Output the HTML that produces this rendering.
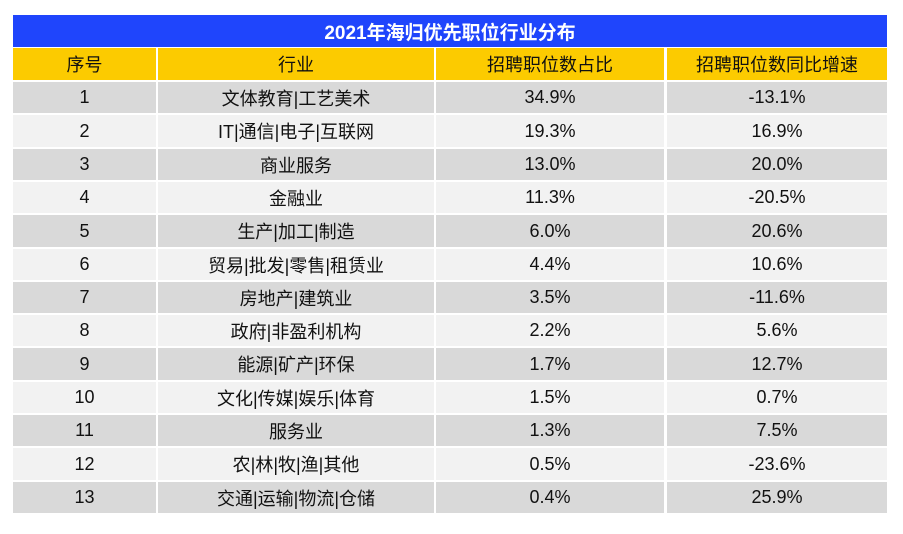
<!DOCTYPE html>
<html><head><meta charset="utf-8"><style>
body{margin:0;width:903px;height:534px;background:#fff;font-family:"Liberation Sans","Noto Sans CJK SC",sans-serif;position:relative;overflow:hidden}
.c{position:absolute;display:flex;align-items:center;justify-content:center;font-size:18px;color:#111}
</style></head><body>
<div class="c" style="left:13px;top:15px;width:874px;height:32px;background:#1f45fc;color:#fff;font-weight:bold;font-size:19px">2021年海归优先职位行业分布</div>
<div id="t"></div>
<script>
var cols=[[13,143],[158,276],[436,228],[667,220]];
var hdr=["序号","行业","招聘职位数占比","招聘职位数同比增速"];
var d=[["1","文体教育|工艺美术","34.9%","-13.1%"],["2","IT|通信|电子|互联网","19.3%","16.9%"],["3","商业服务","13.0%","20.0%"],["4","金融业","11.3%","-20.5%"],["5","生产|加工|制造","6.0%","20.6%"],["6","贸易|批发|零售|租赁业","4.4%","10.6%"],["7","房地产|建筑业","3.5%","-11.6%"],["8","政府|非盈利机构","2.2%","5.6%"],["9","能源|矿产|环保","1.7%","12.7%"],["10","文化|传媒|娱乐|体育","1.5%","0.7%"],["11","服务业","1.3%","7.5%"],["12","农|林|牧|渔|其他","0.5%","-23.6%"],["13","交通|运输|物流|仓储","0.4%","25.9%"]];
var h="";
function row(v,top,ht,bg){for(var i=0;i<4;i++)h+='<div class="c" style="left:'+cols[i][0]+'px;top:'+top+'px;width:'+cols[i][1]+'px;height:'+ht+'px;background:'+bg+'">'+v[i]+'</div>';}
row(hdr,48,32,"#fccb00");
for(var r=0;r<13;r++){var t=Math.round(82+r*33.3);var b=Math.round(82+(r+1)*33.3)-2;row(d[r],t,b-t,r%2?"#f2f2f2":"#d9d9d9");}
document.getElementById("t").innerHTML=h;
</script>
</body></html>
